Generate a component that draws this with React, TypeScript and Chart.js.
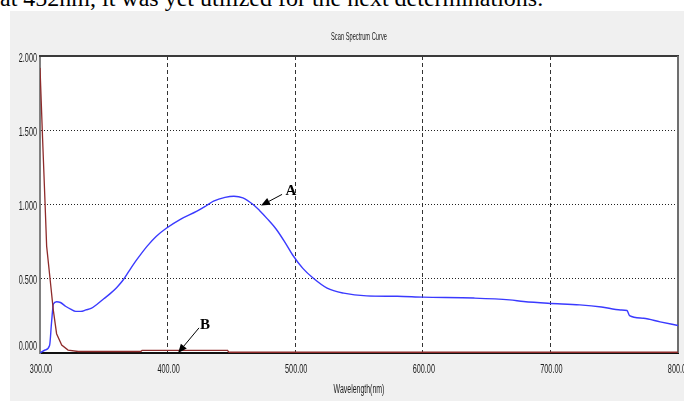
import { useEffect, useRef } from "react";
import { Chart, registerables } from "chart.js";

Chart.register(...registerables);

// ---- data ----
const wavelengthA = [300, 304, 307.5, 309, 310.5, 313, 316, 320, 324, 328, 332, 336, 340, 345, 350, 355, 360, 365, 370, 376, 384, 391, 399, 410, 423, 430, 436, 445, 452, 459, 467, 472, 478, 485, 492, 498, 506, 514, 525, 538, 556, 580, 600, 640, 668, 679, 698, 723, 740, 755, 760, 762, 773, 786, 800];
const absorbanceA = [0.0, 0.02, 0.05, 0.2, 0.33, 0.345, 0.34, 0.315, 0.295, 0.28, 0.28, 0.29, 0.3, 0.33, 0.365, 0.4, 0.44, 0.49, 0.555, 0.63, 0.72, 0.785, 0.84, 0.9, 0.955, 0.99, 1.022, 1.048, 1.056, 1.045, 1.0, 0.96, 0.905, 0.835, 0.745, 0.66, 0.57, 0.505, 0.437, 0.403, 0.385, 0.382, 0.376, 0.37, 0.358, 0.347, 0.335, 0.324, 0.31, 0.29, 0.286, 0.252, 0.234, 0.21, 0.185];

const wavelengthB = [300, 302, 304, 305.2, 308, 310.4, 313, 317, 322, 330, 379, 380, 447, 448, 800];
const absorbanceB = [1.92, 1.45, 1.0, 0.72, 0.49, 0.29, 0.13, 0.054, 0.02, 0.01, 0.01, 0.018, 0.018, 0.005, 0.005];

const xTickValues = [300, 400, 500, 600, 700, 800];
const yTickValues = [0, 0.5, 1.0, 1.5, 2.0];

const chartTitle = "Scan Spectrum Curve";
const xAxisTitle = "Wavelength(nm)";
const caption = "at 452nm, it was yet utilized for the next determinations.";

// annotation anchors in data units: [wavelength, absorbance]
const annotationLabels = ["A", "B"];
const annotationTips = [[473.2, 0.993], [408.2, 0.0]];
const annotationTails = [[489.7, 1.068], [424.6, 0.169]];
const annotationTextAt = [[496.7, 1.088], [429.3, 0.189]];

function drawSqueezed(ctx: CanvasRenderingContext2D, text: string, x: number, y: number, align: CanvasTextAlign, font: string, sx: number, color: string) {
  ctx.save();
  ctx.font = font;
  ctx.fillStyle = color;
  ctx.textAlign = align;
  ctx.textBaseline = "middle";
  ctx.translate(x, y);
  ctx.scale(sx, 1);
  ctx.fillText(text, 0, 0);
  ctx.restore();
}

const framePlugin = {
  id: "frameAndText",
  beforeDraw(chart: any) {
    const { ctx, chartArea: a } = chart;
    ctx.save();
    ctx.fillStyle = "#ffffff";
    ctx.fillRect(a.left, a.top, a.right - a.left, a.bottom - a.top);
    ctx.restore();
  },
  beforeDatasetsDraw(chart: any) {
    const { ctx, chartArea: a } = chart;
    ctx.save();
    ctx.lineWidth = 2;
    ctx.strokeStyle = "#3a3a3a";
    ctx.beginPath();
    ctx.moveTo(a.left - 1, a.top);
    ctx.lineTo(a.right + 1, a.top);
    ctx.stroke();
    ctx.strokeStyle = "#6e6e6e";
    ctx.beginPath();
    ctx.moveTo(a.right, a.top);
    ctx.lineTo(a.right, a.bottom);
    ctx.stroke();
    ctx.restore();
  },
  afterDraw(chart: any) {
    const { ctx, chartArea: a, scales } = chart;
    const xs = scales.x;
    const ys = scales.y;
    const tickFont = '13px "Liberation Sans", Arial, sans-serif';
    const color = "#1a1a1a";
    ys.ticks.forEach((t: any) => {
      const py = ys.getPixelForValue(t.value);
      const off = t.value === 0 ? -7 : 2;
      drawSqueezed(ctx, Number(t.value).toFixed(3), a.left - 3, py + off, "right", tickFont, 0.56, color);
    });
    xs.ticks.forEach((t: any) => {
      const px = xs.getPixelForValue(t.value);
      drawSqueezed(ctx, Number(t.value).toFixed(2), px + 1, a.bottom + 16, "center", tickFont, 0.56, color);
    });
    drawSqueezed(ctx, chartTitle, (a.left + a.right) / 2, a.top - 19, "center", '11px "Liberation Sans", Arial, sans-serif', 0.52, color);
    drawSqueezed(ctx, xAxisTitle, (a.left + a.right) / 2, a.bottom + 37, "center", '12px "Liberation Sans", Arial, sans-serif', 0.58, color);

    // annotations with arrows
    ctx.save();
    annotationLabels.forEach((label, i) => {
      const tx = xs.getPixelForValue(annotationTips[i][0]);
      const ty = ys.getPixelForValue(annotationTips[i][1]);
      const sx = xs.getPixelForValue(annotationTails[i][0]);
      const sy = ys.getPixelForValue(annotationTails[i][1]);
      const ang = Math.atan2(ty - sy, tx - sx);
      const headLen = 9;
      const headW = 3.8;
      const bx = tx - headLen * Math.cos(ang);
      const by = ty - headLen * Math.sin(ang);
      ctx.strokeStyle = "#000";
      ctx.lineWidth = 1;
      ctx.beginPath();
      ctx.moveTo(sx, sy);
      ctx.lineTo(bx, by);
      ctx.stroke();
      ctx.fillStyle = "#000";
      ctx.beginPath();
      ctx.moveTo(tx, ty);
      ctx.lineTo(bx + headW * Math.sin(ang), by - headW * Math.cos(ang));
      ctx.lineTo(bx - headW * Math.sin(ang), by + headW * Math.cos(ang));
      ctx.closePath();
      ctx.fill();
      ctx.font = 'bold 15px "Liberation Serif", "Times New Roman", serif';
      ctx.textAlign = "center";
      ctx.textBaseline = "middle";
      ctx.fillText(label, xs.getPixelForValue(annotationTextAt[i][0]), ys.getPixelForValue(annotationTextAt[i][1]));
    });
    ctx.restore();
  },
};

export default function App() {
  const canvasRef = useRef<HTMLCanvasElement>(null);

  useEffect(() => {
    if (!canvasRef.current) return;
    const edgeAware = (n: number, c: string) => (ctx: any) => (ctx.index === 0 || ctx.index === n - 1 ? "rgba(0,0,0,0)" : c);
    const chart = new Chart(canvasRef.current, {
      type: "line",
      data: {
        datasets: [
          {
            label: "B",
            data: wavelengthB.map((w, i) => ({ x: w, y: absorbanceB[i] })),
            borderColor: "#8e2b2b",
            borderWidth: 1.3,
            pointRadius: 0,
            tension: 0,
          },
          {
            label: "A",
            data: wavelengthA.map((w, i) => ({ x: w, y: absorbanceA[i] })),
            borderColor: "#3a3aff",
            borderWidth: 1.4,
            pointRadius: 0,
            cubicInterpolationMode: "monotone",
          },
        ],
      },
      options: {
        responsive: false,
        maintainAspectRatio: false,
        animation: false,
        devicePixelRatio: 1,
        layout: { padding: { top: 56, right: 6, bottom: 0, left: 0 } },
        plugins: { legend: { display: false }, title: { display: false }, tooltip: { enabled: false } },
        scales: {
          x: {
            type: "linear",
            min: xTickValues[0],
            max: xTickValues[xTickValues.length - 1],
            ticks: { display: false, stepSize: 100 },
            grid: { color: edgeAware(xTickValues.length, "#333333"), lineWidth: 1, drawTicks: false },
            border: { display: true, color: "#111111", width: 2, dash: [4, 3] },
            afterFit: (scale: any) => {
              scale.height = 48;
              scale.paddingLeft = 0;
              scale.paddingRight = 0;
            },
          },
          y: {
            type: "linear",
            min: yTickValues[0],
            max: yTickValues[yTickValues.length - 1],
            ticks: { display: false, stepSize: 0.5 },
            grid: { color: edgeAware(yTickValues.length, "#222222"), lineWidth: 1, drawTicks: false },
            border: { display: true, color: "#808080", width: 2, dash: [1, 2] },
            afterFit: (scale: any) => {
              scale.width = 40;
              scale.paddingTop = 0;
              scale.paddingBottom = 0;
            },
          },
        },
      } as any,
      plugins: [framePlugin as any],
    });
    return () => chart.destroy();
  }, []);

  return (
    <div style={{ position: "fixed", left: 0, top: 0, width: 684, height: 401, background: "#ffffff", overflow: "hidden" }}>
      <div style={{ position: "absolute", left: 10, top: 11, width: 674, height: 390, background: "#f0f0f0" }} />
      <div
        style={{
          position: "absolute",
          left: 0,
          top: -14,
          whiteSpace: "nowrap",
          fontFamily: '"Liberation Serif", "Times New Roman", serif',
          fontSize: 24,
          lineHeight: "24px",
          color: "#000",
        }}
      >
        {caption}
      </div>
      <canvas ref={canvasRef} width={684} height={401} style={{ position: "absolute", left: 0, top: 0, width: 684, height: 401 }} />
    </div>
  );
}
